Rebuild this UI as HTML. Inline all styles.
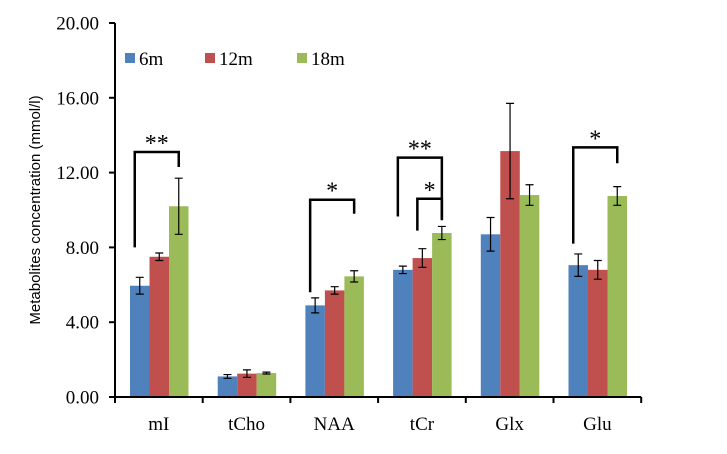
<!DOCTYPE html>
<html><head><meta charset="utf-8"><style>
body{margin:0;background:#fff}
svg text{font-family:"Liberation Serif",serif;fill:#000}
</style></head><body>
<svg id="c" width="727" height="449" xmlns="http://www.w3.org/2000/svg"></svg>
<script>
const categories=["mI","tCho","NAA","tCr","Glx","Glu"];
const seriesNames=["6m","12m","18m"];
const colors=["#4f81bd","#c0504d","#9bbb59"];
const v6=[5.95,1.1,4.9,6.8,8.7,7.05];
const v12=[7.5,1.25,5.7,7.43,13.15,6.8];
const v18=[10.2,1.28,6.45,8.77,10.8,10.75];
const e6=[0.45,0.1,0.4,0.2,0.9,0.6];
const e12=[0.2,0.2,0.2,0.5,2.55,0.5];
const e18=[1.5,0.05,0.3,0.35,0.55,0.5];
const yTicks=[0,4,8,12,16,20];
const brackets=[[0,0,2,8.0,13.1,12.3,"**"],[2,0,2,5.6,10.55,9.8,"*"],[3,0,2,9.65,12.8,9.5,"**"],[3,1,2,8.9,10.6,9.45,"*"],[5,0,2,8.2,13.35,12.5,"*"]];
const svg=document.getElementById('c');const NS="http://www.w3.org/2000/svg";
const X0=115,CW=87.7,Y0=397,YT=23,BW=19.5,OFF=15;
const y=v=>Y0-(v/20)*(Y0-YT);
const bx=(c,s)=>X0+c*CW+OFF+s*BW;
function el(t,a,p){const e=document.createElementNS(NS,t);for(const k in a)e.setAttribute(k,a[k]);(p||svg).appendChild(e);return e;}
const vals=[v6,v12,v18],errs=[e6,e12,e18];
for(let s=0;s<3;s++)for(let c=0;c<6;c++){
 const r=el('rect',{x:bx(c,s),y:y(vals[s][c]),width:BW,height:Y0-y(vals[s][c]),fill:colors[s]});
 
 
 const cx=bx(c,s)+BW/2,hi=y(vals[s][c]+errs[s][c]),lo=y(vals[s][c]-errs[s][c]);
 const g=el('path',{d:`M${cx},${hi}V${lo}M${cx-4},${hi}H${cx+4}M${cx-4},${lo}H${cx+4}`,stroke:'#000','stroke-width':1.2,fill:'none'});
 
 
}
const ax=el('path',{d:`M${X0},${YT}V${Y0}H${X0+6*CW}`,stroke:'#000','stroke-width':2,fill:'none'});


yTicks.forEach(t=>{
 el('line',{x1:X0-6,x2:X0,y1:y(t),y2:y(t),stroke:'#000','stroke-width':2});
 const tx=el('text',{x:99,y:y(t)+6.5,'text-anchor':'end','font-size':19});tx.textContent=t.toFixed(2);
 
 
});
for(let c=0;c<=6;c++)el('line',{x1:X0+c*CW,x2:X0+c*CW,y1:Y0,y2:Y0+6,stroke:'#000','stroke-width':2});
categories.forEach((n,c)=>{const tx=el('text',{x:X0+c*CW+CW/2,y:430,'text-anchor':'middle','font-size':19});tx.textContent=n;
 
 });
const yt=el('text',{x:0,y:0,transform:'translate(40,210) rotate(-90)','text-anchor':'middle','font-size':15,style:'font-family:"Liberation Sans",sans-serif'});
yt.textContent='Metabolites concentration (mmol/l)';


brackets.forEach(b=>{
 const [c,s1,s2,l,top,r,lab]=b;const x1=bx(c,s1)+BW/2-5,x2=bx(c,s2)+BW/2;
 const p=el('path',{d:`M${x1},${y(l)}V${y(top)}H${x2}V${y(r)}`,stroke:'#000','stroke-width':2.5,fill:'none'});
 
 
 const t=el('text',{x:(x1+x2)/2,y:y(top)-1,'text-anchor':'middle','font-size':24});t.textContent=lab;
 
 
});
const lx=[125,205,297];
seriesNames.forEach((n,i)=>{
 const r=el('rect',{x:lx[i],y:53,width:10,height:10,fill:colors[i]});
 
 
 const t=el('text',{x:lx[i]+14,y:65,'font-size':19});t.textContent=n;
 
 
});
</script>
</body></html>
